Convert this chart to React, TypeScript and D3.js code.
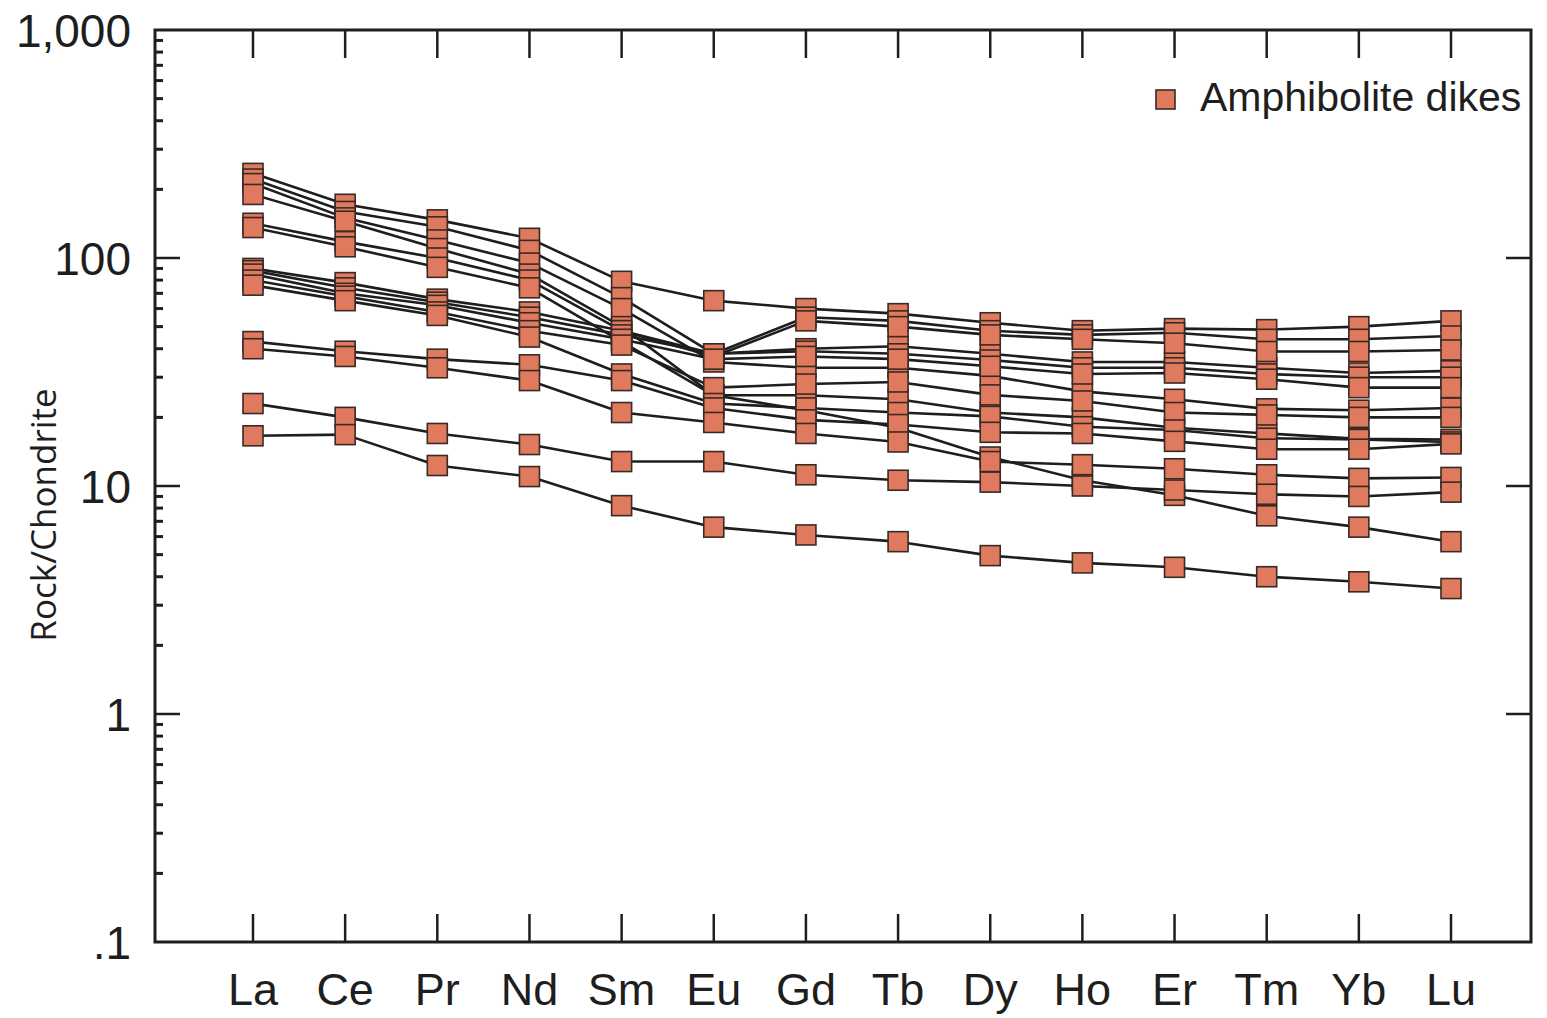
import React, { useEffect, useRef } from "react";
import * as d3 from "d3";

const elements = ["La", "Ce", "Pr", "Nd", "Sm", "Eu", "Gd", "Tb", "Dy", "Ho", "Er", "Tm", "Yb", "Lu"];

const sampleT1 = [235, 172, 147, 122, 79, 65, 60, 57, 52, 48, 49, 48.5, 50, 53];
const sampleT2 = [222, 160, 137, 108, 67, 38, 55, 53, 48, 46, 47, 44, 44, 45.5];
const sampleT3 = [212, 150, 120, 95, 60, 35, 33, 33, 30.4, 26, 24, 21.8, 21.5, 22];
const sampleT4 = [190, 145, 110, 85, 50, 25, 21.5, 18, 13.4, 10.6, 9.1, 7.4, 6.6, 5.7];
const sampleU1 = [142, 118, 100, 80, 48, 38, 40, 41, 38, 35, 35, 33, 31.3, 32];
const sampleU2 = [136, 112, 91, 74, 43, 25, 25, 24, 21, 20, 18, 17, 16.1, 16];
const sampleM1 = [90, 78, 66, 58, 48, 37, 53, 50, 46, 44, 42.3, 38.9, 38.9, 39.5];
const sampleM2 = [88, 74, 64, 55, 46, 38, 39, 38, 35.7, 33, 33, 31, 30, 30];
const sampleM3 = [85, 70, 62, 52, 44, 36, 37, 36, 33.5, 31, 31.3, 29.4, 27, 27];
const sampleM4 = [80, 68, 58, 48, 41.5, 27, 28, 28.6, 25.1, 23.6, 21, 20.5, 20, 20];
const sampleM5 = [76, 65, 56, 45, 31, 23, 22, 21, 20.2, 18.2, 17.6, 16.2, 16, 15.6];
const sampleL1 = [43, 39, 36, 34, 29, 22, 19.5, 18.6, 17.2, 17, 15.7, 14.5, 14.5, 15.3];
const sampleL2 = [40, 37, 33, 29, 21, 19, 17, 15.6, 12.8, 12.4, 11.9, 11.2, 10.8, 10.9];
const sampleB = [23, 20, 17, 15.2, 12.8, 12.8, 11.2, 10.6, 10.4, 10, 9.6, 9.2, 9.0, 9.4];
const sampleA = [16.6, 16.8, 12.3, 11, 8.2, 6.6, 6.1, 5.7, 4.95, 4.6, 4.4, 4.0, 3.8, 3.55];

const samples = [
  sampleT1, sampleT2, sampleT3, sampleT4, sampleU1, sampleU2, sampleM1, sampleM2,
  sampleM3, sampleM4, sampleM5, sampleL1, sampleL2, sampleB, sampleA,
];

const yTickValues = [0.1, 1, 10, 100, 1000];
const yTickLabels = [".1", "1", "10", "100", "1,000"];
const legendLabel = "Amphibolite dikes";
const yAxisLabel = "Rock/Chondrite";

const W = 1547;
const H = 1018;
const left = 155;
const right = 1531;
const top = 30;
const bottom = 942;
const markerFill = "#df7a5e";
const ink = "#1e1e1e";

export default function App() {
  const ref = useRef<SVGSVGElement | null>(null);

  useEffect(() => {
    document.body.style.margin = "0";
    const svg = d3.select(ref.current);
    svg.selectAll("*").remove();

    const x = d3.scalePoint<string>().domain(elements).range([253, 1451]);
    const y = d3.scaleLog().domain([0.1, 1000]).range([bottom, top]);

    const g = svg.append("g");

    // minor ticks (left)
    const minor: number[] = [];
    for (let e = -1; e < 3; e++) {
      for (let k = 2; k <= 9; k++) minor.push(k * Math.pow(10, e));
    }
    minor.forEach((v) => {
      g.append("line").attr("x1", left).attr("x2", left + 8).attr("y1", y(v)).attr("y2", y(v))
        .attr("stroke", ink).attr("stroke-width", 3);
    });
    // major ticks
    yTickValues.forEach((v, i) => {
      if (i > 0 && i < yTickValues.length - 1) {
        g.append("line").attr("x1", left).attr("x2", left + 25).attr("y1", y(v)).attr("y2", y(v))
          .attr("stroke", ink).attr("stroke-width", 2.5);
        g.append("line").attr("x1", right - 25).attr("x2", right).attr("y1", y(v)).attr("y2", y(v))
          .attr("stroke", ink).attr("stroke-width", 2.5);
      }
      g.append("text").attr("x", 131).attr("y", y(v)).attr("dy", "0.36em")
        .attr("text-anchor", "end").attr("font-family", "'Liberation Sans', Arial, sans-serif")
        .attr("font-size", 46).attr("fill", ink).text(yTickLabels[i]);
    });

    // x ticks top and bottom
    elements.forEach((el) => {
      const xx = x(el)!;
      g.append("line").attr("x1", xx).attr("x2", xx).attr("y1", top).attr("y2", top + 28)
        .attr("stroke", ink).attr("stroke-width", 2.5);
      g.append("line").attr("x1", xx).attr("x2", xx).attr("y1", bottom).attr("y2", bottom - 28)
        .attr("stroke", ink).attr("stroke-width", 2.5);
      g.append("text").attr("x", xx).attr("y", 1005).attr("text-anchor", "middle")
        .attr("font-family", "'Liberation Sans', Arial, sans-serif").attr("font-size", 45)
        .attr("fill", ink).text(el);
    });

    // frame
    g.append("rect").attr("x", left).attr("y", top).attr("width", right - left).attr("height", bottom - top)
      .attr("fill", "none").attr("stroke", ink).attr("stroke-width", 3);

    // y label
    g.append("text").attr("transform", `translate(56,515) rotate(-90)`).attr("text-anchor", "middle")
      .attr("font-family", "'Open Sans', sans-serif").attr("font-size", 35).attr("fill", ink)
      .text(yAxisLabel);

    const line = d3.line<number>().x((_, i) => x(elements[i])!).y((d) => y(d));
    const lines = g.append("g");
    samples.forEach((s) => {
      lines.append("path").attr("d", line(s)).attr("fill", "none").attr("stroke", ink)
        .attr("stroke-width", 2.6).attr("stroke-linejoin", "round");
    });
    const marks = g.append("g");
    samples.forEach((s) => {
      s.forEach((v, i) => {
        marks.append("rect").attr("x", x(elements[i])! - 10).attr("y", y(v) - 10)
          .attr("width", 20).attr("height", 20).attr("fill", markerFill)
          .attr("stroke", "#3a2a25").attr("stroke-width", 1.6);
      });
    });

    // legend
    g.append("rect").attr("x", 1156).attr("y", 90).attr("width", 19).attr("height", 19)
      .attr("fill", markerFill).attr("stroke", "#3a2a25").attr("stroke-width", 1.6);
    g.append("text").attr("x", 1200).attr("y", 111).attr("font-family", "'Liberation Sans', Arial, sans-serif")
      .attr("font-size", 41).attr("fill", ink).text(legendLabel);
  }, []);

  return (
    <svg ref={ref} width={W} height={H} style={{ position: "absolute", left: 0, top: 0, background: "#fff" }} />
  );
}
